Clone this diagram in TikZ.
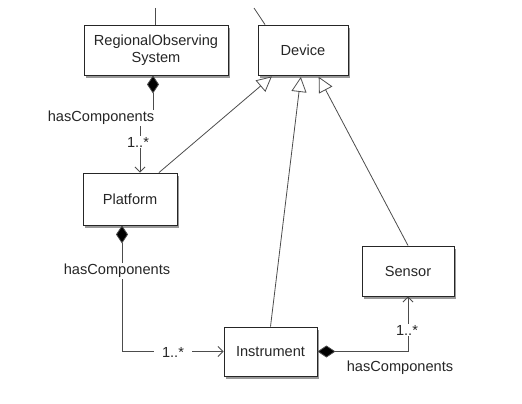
\documentclass[tikz,border=0pt]{standalone}
\usepackage{fontspec}
\setmainfont{Liberation Sans}
\usetikzlibrary{arrows.meta,shadows,calc}
\begin{document}
\begin{tikzpicture}[x=1pt,y=-1pt,
  cls/.style={draw=black!85,line width=0.9pt,fill=white,rectangle,inner sep=0pt,
    align=center,font=\fontsize{14.6}{16.5}\selectfont,text=black!85,
    drop shadow={shadow xshift=2pt,shadow yshift=-3pt,opacity=0.4,fill=black}},
  conn/.style={draw=black!70,line width=0.8pt},
  gen/.style={conn,-{Triangle[open,length=15pt,width=15pt,fill=white]},shorten >=1.5pt},
  comp/.style={conn,{Diamond[length=18pt,width=12pt,fill=black]}-{Straight Barb[length=5pt,width=10pt]}},
  lbl/.style={font=\fontsize{14.6}{16.5}\selectfont,text=black!85,inner sep=1pt},
  lblw/.style={lbl,fill=white}]
\useasboundingbox (0,0) rectangle (522,404);
\node[cls,minimum width=144pt,minimum height=50pt] (ros) at (156,50) {RegionalObserving\\System};
\node[cls,minimum width=90pt,minimum height=50pt] (dev) at (303,50) {Device};
\node[cls,minimum width=94pt,minimum height=52pt] (plat) at (130,199) {Platform};
\node[cls,minimum width=93pt,minimum height=49pt] (inst) at (270.5,351.5) {Instrument};
\node[cls,minimum width=92pt,minimum height=50pt] (sens) at (408,271) {Sensor};
% cut-off connectors at top
\coordinate (t1) at (155,8);
\coordinate (t2) at (254,8);
\draw[conn] (t1) -- (t1 |- ros.north);
\draw[conn] (t2) -- ([xshift=-38pt]dev.north);
% generalizations
\draw[gen] ([xshift=29pt]plat.north) -- ([xshift=-30pt]dev.south);
\draw[gen] (inst.north) -- ([xshift=-2pt]dev.south);
\draw[gen] (sens.north) -- ([xshift=15pt]dev.south);
% ROS -> Platform
\coordinate (j1) at (153,118);
\coordinate (j2) at (140,118);
\draw[comp] ([xshift=-3pt]ros.south) -- (j1) -- (j2) -- ([xshift=10pt]plat.north);
\node[lblw] (l1) at (101,118) {hasComponents};
\node[lblw] (m1) at (138,142) {1..*};
% Platform -> Instrument
\draw[comp] ([xshift=-8pt]plat.south) |- (inst.west);
\node[lblw] (l2) at (117,271) {hasComponents};
\node[lblw,inner xsep=8pt] (m2) at (173,352) {1..*};
% Instrument -> Sensor
\draw[comp] (inst.east) -| (sens.south);
\node[lblw] (m3) at (407,330) {1..*};
\node[lbl] (l3) at (400,368) {hasComponents};
\end{tikzpicture}
\end{document}
